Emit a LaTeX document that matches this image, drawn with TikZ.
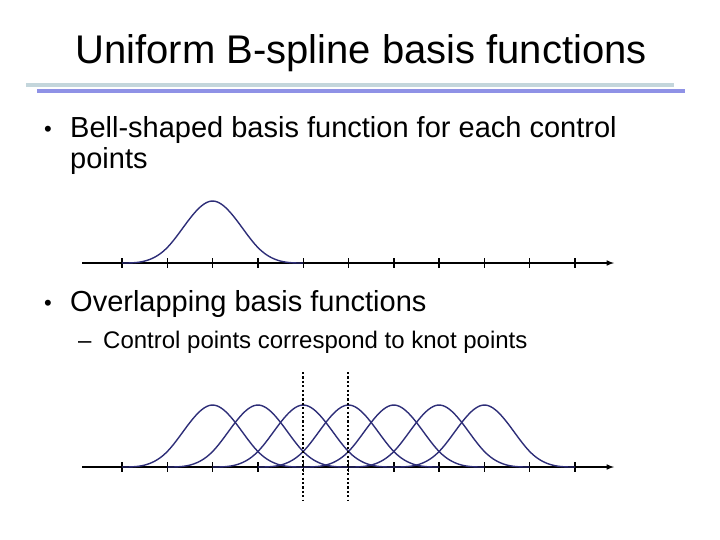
\documentclass[tikz,border=0pt]{standalone}
\usepackage{fontspec}
\setmainfont{Liberation Sans}
\begin{document}
\begin{tikzpicture}[x=1pt,y=-1pt,
  declare function={bs(\t)=ifthenelse(\t<1,\t^3/6,ifthenelse(\t<2,(-3*\t^3+12*\t^2-12*\t+4)/6,ifthenelse(\t<3,(3*\t^3-24*\t^2+60*\t-44)/6,(4-\t)^3/6)));},
  curve/.style={draw=navy,line width=1.4pt},
  axis/.style={line width=1.5pt,-latex},
  tick/.style={line width=1.4pt},
  dotl/.style={line width=2.4pt,dash pattern=on 2.2pt off 2.2pt},
  txt/.style={anchor=base west,inner sep=0pt}]
\definecolor{navy}{HTML}{2E2E78}
\definecolor{rulegray}{HTML}{C4D6DC}
\definecolor{ruleblue}{HTML}{8F92E6}
\useasboundingbox (0,0) rectangle (720,539);
\node[anchor=base,font=\fontsize{40}{44}\selectfont] (title) at (361,63) {Uniform B-spline basis functions};
\draw[rulegray,line width=4pt] (26,85) -- (674,85);
\draw[ruleblue,line width=4pt] (37,91) -- (685,91);
\node[txt,font=\fontsize{22}{26}\selectfont] (b1) at (44,136) {•};
\node[txt,font=\fontsize{29}{32}\selectfont] (t1) at (70,137) {Bell-shaped basis function for each control};
\node[txt,font=\fontsize{29}{32}\selectfont] (t1b) at (70,168) {points};
\node[txt,font=\fontsize{22}{26}\selectfont] (b2) at (44,310) {•};
\node[txt,font=\fontsize{29}{32}\selectfont] (t2) at (70,311) {Overlapping basis functions};
\node[txt,font=\fontsize{24}{28}\selectfont] (d1) at (78,348) {–};
\node[txt,font=\fontsize{24}{28}\selectfont] (t3) at (103,348) {Control points correspond to knot points};
% top axis
\coordinate (a1s) at (82,263); \coordinate (a1e) at (614,263);
\draw[axis] (a1s) -- (a1e);
\foreach \i in {0,...,10} \draw[tick] (122+45.3*\i,258) -- (122+45.3*\i,268);
\draw[curve] plot[domain=0:4,samples=80,smooth] ({122+45.3*\x},{263-93*bs(\x)});
% bottom axis
\coordinate (a2s) at (82,467); \coordinate (a2e) at (614,467);
\draw[axis] (a2s) -- (a2e);
\foreach \i in {0,...,10} \draw[tick] (122+45.3*\i,462) -- (122+45.3*\i,472);
\foreach \k in {0,...,6}
  \draw[curve] plot[domain=0:4,samples=80,smooth] ({122+45.3*(\k+\x)},{467-93*bs(\x)});
\draw[dotl] (303,372) -- (303,500);
\draw[dotl] (348,372) -- (348,500);
\end{tikzpicture}
\end{document}
